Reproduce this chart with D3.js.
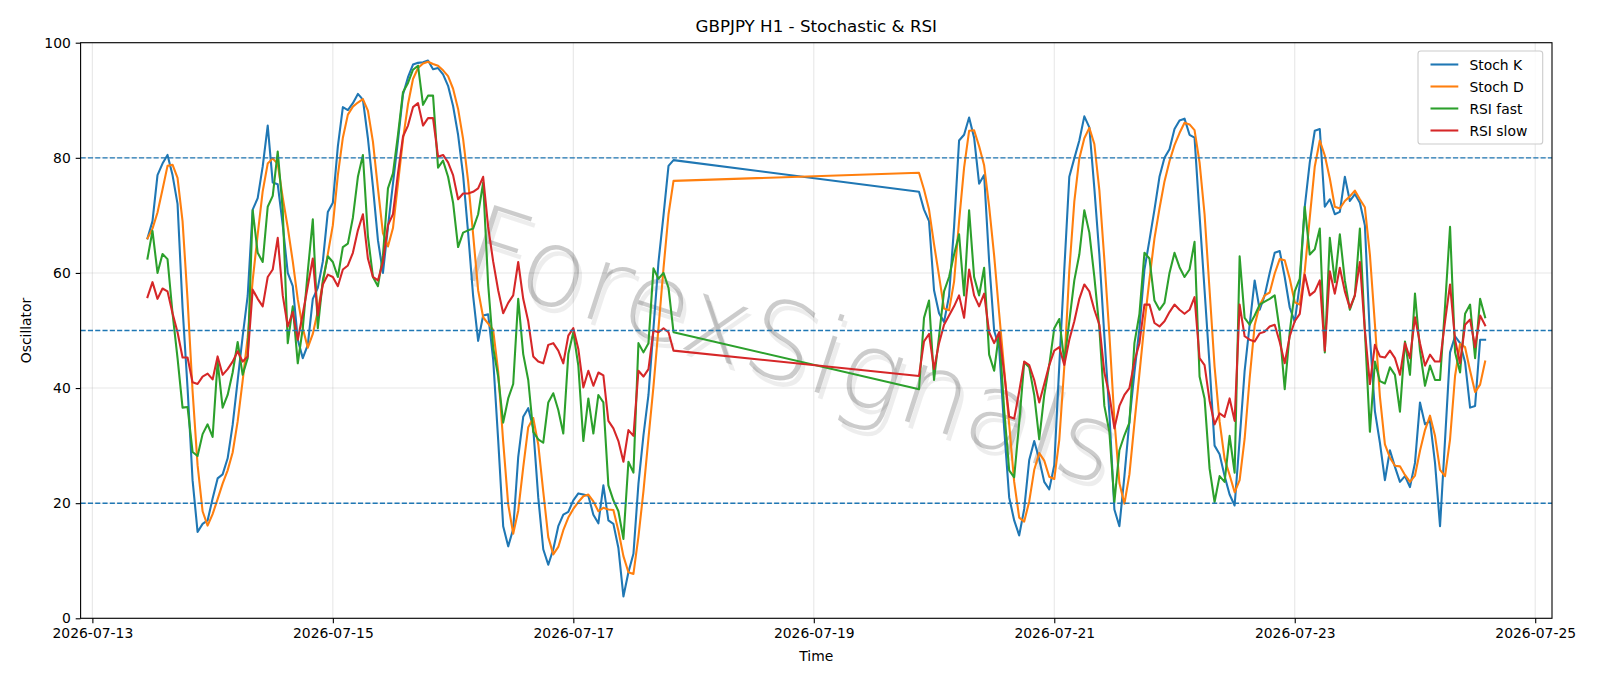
<!DOCTYPE html>
<html>
<head>
<meta charset="utf-8">
<script src="https://cdn.jsdelivr.net/npm/d3@7/dist/d3.min.js"></script>
<style>
  body { margin: 0; background: #fff; }
  svg { display: block; font-family: "DejaVu Sans", sans-serif; }
</style>
</head>
<body>
<script>
// --- data (hourly bars, two trading blocks with the weekend gap between) ---
const seg1Start = '2026-07-13T11:00:00Z';
const seg2Start = '2026-07-19T21:00:00Z';

const stochK1 = [66, 69, 77, 79, 80.5, 77, 72, 54, 40, 24,
  15, 16.4, 17, 20.8, 24.3, 25, 27.8, 33.6, 41.3, 49,
  56, 71, 73, 78.5, 85.6, 75.7, 75.4, 68.3, 60, 57.7,
  48.4, 45.2, 47.5, 55.5, 57.4, 62, 70.6, 72.2, 82, 88.8,
  88.3, 89.5, 91.1, 90.1, 83.4, 75, 65.7, 60, 68, 75.5,
  83, 91, 94, 96.2, 96.5, 96.6, 96.9, 95.4, 95.6, 94.5,
  92.5, 89, 84, 77, 67, 56, 48.2, 52.6, 52.8, 45,
  31, 16, 12.5, 15.5, 28, 35, 36.5, 33, 21, 12,
  9.3, 12, 16, 18, 18.5, 20.5, 21.7, 21.5, 21.3, 18,
  16.5, 23.1, 17, 16.4, 12.2, 3.8, 8, 11.2, 23.4, 31.8,
  38.8, 50.4, 61.9, 70, 78.6, 79.6];
const stochK2 = [74.1, 71, 69, 57, 53, 51.5, 56, 68, 83, 84,
  87, 83.5, 75.5, 77, 62, 50, 47, 33, 21, 17,
  14.4, 19, 27.5, 30.8, 27.6, 23.7, 22.4, 26.6, 43.9, 60.6,
  76.7, 79.9, 83, 87.2, 85.3, 74.7, 63.2, 49, 35.6, 18.9,
  16, 24.7, 34.3, 42.7, 50.4, 60.6, 65.7, 71, 76.7, 80,
  81.5, 85, 86.5, 86.8, 84, 83.5, 70, 57, 44, 30,
  28.5, 24.7, 21.5, 19.6, 31, 43, 51, 58.7, 53.6, 56.1,
  60, 63.5, 63.8, 59.3, 54, 51.5, 58, 71.5, 79.2, 84.7,
  85, 71.5, 72.8, 70.2, 70.6, 76.7, 72.5, 73.7, 72.2, 68.3,
  49, 36, 30.5, 24, 29.2, 26.3, 23.7, 24.7, 22.8, 27,
  37.5, 33.7, 34.3, 27, 16, 31, 46.2, 49, 47.8, 44.5,
  36.6, 36.9, 48.4, 48.4];

const stochD1 = [66, 67.7, 70.5, 74.5, 78.6, 78.8, 76.5, 69, 55.4, 39.5,
  26.6, 18.6, 16.1, 18.1, 20.7, 23.4, 25.7, 28.8, 34.2, 41.3,
  48.8, 58.7, 66.7, 74.2, 79, 79.9, 78.9, 73.1, 67.9, 62,
  55.4, 50.4, 47, 49.4, 53.4, 58.3, 63.3, 68.3, 77, 83.5,
  87.5, 88.9, 89.6, 90.2, 88.2, 82.8, 74.7, 66.9, 64.6, 67.8,
  75.5, 83.2, 89.3, 93.7, 95.6, 96.4, 96.7, 96.3, 96, 95.2,
  94.2, 92, 88.5, 83.3, 76, 66.7, 57, 52.3, 51.2, 50.1,
  42.9, 30.7, 19.8, 14.7, 18.7, 26.2, 33.2, 34.8, 30.2, 22,
  14.1, 11.1, 12.4, 15.3, 17.5, 19, 20.2, 21.2, 21.5, 20.3,
  18.6, 19.2, 18.9, 18.8, 15.2, 10.8, 8, 7.7, 14.2, 22.1,
  31.3, 40.3, 50.4, 60.8, 70.2, 76];
const stochD2 = [77.4, 74.5, 71, 65, 59.5, 53.8, 53.5, 58.5, 69, 78.3,
  84.7, 84.8, 82, 78.7, 71.5, 63, 53, 43.3, 33.7, 23.7,
  17.5, 16.8, 20.3, 25.8, 28.7, 27.4, 24.6, 24.2, 31, 43.7,
  60.4, 72.4, 79.9, 83.4, 85.2, 82.4, 74.4, 62.3, 49.3, 34.5,
  23.5, 19.9, 25, 33.9, 42.5, 51.2, 58.9, 66, 71.2, 75.9,
  79.4, 82.2, 84.3, 86.1, 85.8, 84.8, 79.2, 70.2, 57, 43.7,
  34.2, 27.7, 24.9, 21.9, 24, 31.2, 41.7, 50.9, 54.4, 56.1,
  56.6, 59.9, 62.4, 62.2, 59, 54.9, 54.5, 60.3, 69.6, 78.5,
  83, 80.4, 76.4, 71.5, 71.2, 72.5, 73.3, 74.3, 72.8, 71.4,
  63.2, 51.1, 38.5, 30.2, 27.9, 26.5, 26.4, 24.9, 23.7, 24.8,
  29.1, 32.7, 35.2, 31.7, 25.8, 24.7, 31.1, 42.1, 47.7, 47.1,
  43, 39.3, 40.6, 44.6];

const rsiFast1 = [62.5, 67.3, 60, 63.3, 62.4, 53, 45.2, 36.6, 36.7, 28.9,
  28.2, 32, 33.7, 31.5, 44.6, 36.6, 38.8, 42.7, 48, 42.3,
  45.2, 70.9, 63.5, 61.9, 71.5, 73.4, 81.1, 70.9, 47.8, 54.2,
  44.3, 50.4, 60.3, 69.3, 50.4, 58.7, 62.9, 61.9, 59.3, 64.5,
  65.1, 69.6, 76.7, 80.5, 66.4, 59.3, 57.7, 63, 74.7, 77.3,
  84, 91.4, 93, 95.3, 96, 89.2, 90.8, 90.8, 78.3, 79.5,
  76.7, 72.2, 64.5, 67, 67.4, 67.7, 70.2, 75.7, 58, 47,
  42, 34, 38.2, 40.7, 55.5, 45.9, 41.4, 32.4, 31.1, 30.5,
  37.5, 39.1, 36.2, 32.1, 45.9, 49.7, 43.9, 30.8, 38.2, 32.1,
  38.8, 37.5, 23.1, 20.5, 18.6, 13.8, 27.2, 25.3, 47.8, 46.2,
  47.8, 60.8, 59, 60, 57.4, 49.7];
const rsiFast2 = [39.8, 52.2, 55.2, 41.4, 49, 56.8, 59.3, 63.2, 66.7, 56.1,
  70.9, 59.3, 56.1, 60.9, 45.8, 43, 49.7, 36.2, 25.7, 24.5,
  34, 44.5, 43.6, 38.8, 31.1, 38.8, 44, 50.4, 52, 44.6,
  51.6, 58.7, 63.2, 70.9, 67, 59.3, 50.4, 36.9, 32.4, 20.2,
  29.2, 31.8, 34, 47.8, 52.9, 63.5, 62.5, 55.2, 53.6, 54.8,
  60, 63.5, 61, 59.3, 60.6, 65.4, 42, 38.2, 26, 20.2,
  24.7, 23.7, 31.7, 25.3, 62.9, 52.2, 51, 52.6, 54.5, 55,
  55.5, 56.1, 50, 39.8, 49.7, 56.8, 59, 71.5, 63.2, 64.1,
  67.7, 46.2, 66.1, 58.4, 66.7, 58.7, 53.6, 56.1, 67.7, 50,
  32.4, 44.6, 41.2, 40.8, 43.6, 42.3, 35.9, 48.1, 42.3, 56.4,
  46.5, 40.4, 43.9, 41.4, 41.4, 54.2, 68, 46.2, 42.7, 52.9,
  54.5, 45.2, 55.5, 52.3];

const rsiSlow1 = [55.8, 58.4, 55.5, 57.3, 56.8, 53, 49.7, 45.3, 45.3, 41,
  40.7, 42, 42.5, 41.5, 45.5, 42.3, 43.3, 44.6, 46.4, 44.6,
  45.5, 57.1, 55.5, 54.2, 59.3, 60.6, 66.1, 56.1, 50.7, 53.2,
  48.4, 52.9, 57.7, 62.5, 52.6, 58, 59.7, 59.3, 57.7, 60.6,
  61.3, 63.5, 67.4, 70.2, 62.5, 59.3, 58.7, 61.9, 68.3, 70.2,
  77.3, 83.7, 85.6, 88.8, 89.5, 85.6, 86.9, 86.9, 80.2, 80.5,
  79.2, 77, 72.8, 73.8, 73.8, 74.1, 74.7, 76.7, 68, 62,
  57, 53, 54.8, 56.1, 61.9, 55.5, 51.6, 45.5, 44.6, 44.3,
  47.5, 47.8, 46.5, 44.3, 49.1, 50.4, 46.8, 40.1, 43, 40.4,
  42.7, 42.2, 34.3, 33, 30.8, 27.2, 32.7, 31.7, 43, 42,
  43.3, 50, 49.7, 50.4, 49.7, 46.5];
const rsiSlow2 = [42.1, 48.1, 49.4, 43.3, 47.8, 51, 52.6, 54.2, 56.1, 52.2,
  60.6, 56.1, 54.2, 56.4, 49.7, 47.8, 49.7, 42.6, 35, 34.7,
  39.4, 44.6, 44, 41.4, 37.5, 40.7, 44, 46.5, 47.1, 44,
  48.4, 51.6, 55.5, 58, 56.8, 53.6, 51, 42.7, 38.8, 33,
  36.9, 38.8, 40, 44.6, 47.8, 54.5, 54.5, 51.3, 50.7, 51.6,
  53.2, 54.5, 53.6, 52.9, 53.6, 55.8, 45.2, 44, 37.8, 33.7,
  35.6, 35, 38.2, 34.3, 54.5, 49, 48.4, 48.1, 49.5, 49.8,
  50.7, 51, 48, 44.3, 49, 51.6, 52.9, 59.7, 56.1, 56.8,
  58.7, 46.5, 60.3, 56.4, 60.9, 56.8, 53.9, 56.1, 61.9, 50,
  40.7, 47.5, 45.5, 45.3, 46.5, 45.2, 42.3, 47.8, 45.2, 52.3,
  47.8, 43.9, 45.8, 44.6, 44.6, 51.6, 58, 48.4, 44.3, 51,
  51.9, 47.1, 52.6, 50.9];

const seriesNames = ['Stoch K', 'Stoch D', 'RSI fast', 'RSI slow'];
const seriesColors = ['#1f77b4', '#ff7f0e', '#2ca02c', '#d62728'];
const levels = [80, 50, 20];
const xTicks = ['2026-07-13', '2026-07-15', '2026-07-17', '2026-07-19', '2026-07-21', '2026-07-23', '2026-07-25'];
const yTicks = [0, 20, 40, 60, 80, 100];

// --- layout ---
const W = 1600, H = 686;
const margin = {top: 42.7, right: 48, bottom: 67.7, left: 80.6};
const iw = W - margin.left - margin.right;
const ih = H - margin.top - margin.bottom;
const FS = 13.9;

const HOUR = 3600 * 1000;
const hours = (start, n) => d3.range(n).map(i => new Date(Date.parse(start) + i * HOUR));
const times = hours(seg1Start, stochK1.length).concat(hours(seg2Start, stochK2.length));
const series = [
  stochK1.concat(stochK2),
  stochD1.concat(stochD2),
  rsiFast1.concat(rsiFast2),
  rsiSlow1.concat(rsiSlow2)
];

// matplotlib style 5% x margins
const t0 = times[0], t1 = times[times.length - 1];
const pad = (t1 - t0) * 0.05;
const x = d3.scaleUtc()
  .domain([new Date(+t0 - pad), new Date(+t1 + pad)])
  .range([0, iw]);
const y = d3.scaleLinear().domain([0, 100]).range([ih, 0]);

const svg = d3.select('body').append('svg')
  .attr('width', W)
  .attr('height', H);

svg.append('text')
  .attr('x', margin.left + iw / 2)
  .attr('y', 25.5)
  .attr('text-anchor', 'middle')
  .attr('dominant-baseline', 'central')
  .style('font-size', '16.7px')
  .text('GBPJPY H1 - Stochastic & RSI');

const g = svg.append('g')
  .attr('transform', 'translate(' + margin.left + ',' + margin.top + ')');

// grid
const tickDates = xTicks.map(s => new Date(s + 'T00:00:00Z'));
g.append('g').selectAll('line.vgrid')
  .data(tickDates)
  .enter().append('line')
  .attr('class', 'vgrid')
  .attr('x1', d => x(d)).attr('x2', d => x(d))
  .attr('y1', 0).attr('y2', ih)
  .attr('stroke', '#b0b0b0').attr('stroke-opacity', 0.3).attr('stroke-width', 1.1);
g.append('g').selectAll('line.hgrid')
  .data(yTicks)
  .enter().append('line')
  .attr('class', 'hgrid')
  .attr('x1', 0).attr('x2', iw)
  .attr('y1', d => y(d)).attr('y2', d => y(d))
  .attr('stroke', '#b0b0b0').attr('stroke-opacity', 0.3).attr('stroke-width', 1.1);

// watermark: thin grey text with a faint offset shadow
const wm = g.append('g')
  .attr('transform', 'translate(' + (792 - margin.left) + ',' + (345 - margin.top) + ') rotate(18)');
wm.append('text')
  .attr('x', 5).attr('y', 5)
  .attr('text-anchor', 'middle')
  .attr('dominant-baseline', 'central')
  .style('font-size', '108px')
  .style('font-weight', 200)
  .attr('fill', '#000').attr('fill-opacity', 0.07)
  .text('ForexSignals');
wm.append('text')
  .attr('text-anchor', 'middle')
  .attr('dominant-baseline', 'central')
  .style('font-size', '108px')
  .style('font-weight', 200)
  .attr('fill', '#000').attr('fill-opacity', 0.2)
  .text('ForexSignals');

// lines
const line = d3.line()
  .x((d, i) => x(times[i]))
  .y(d => y(d));
g.append('g').selectAll('path.series')
  .data(series)
  .enter().append('path')
  .attr('class', 'series')
  .attr('d', line)
  .attr('fill', 'none')
  .attr('stroke', (d, i) => seriesColors[i])
  .attr('stroke-width', 2.08)
  .attr('stroke-linejoin', 'round')
  .attr('stroke-linecap', 'square');

// overbought / mid / oversold levels
g.append('g').selectAll('line.level')
  .data(levels)
  .enter().append('line')
  .attr('class', 'level')
  .attr('x1', 0).attr('x2', iw)
  .attr('y1', d => y(d)).attr('y2', d => y(d))
  .attr('stroke', '#1f77b4')
  .attr('stroke-width', 1.39)
  .attr('stroke-dasharray', '5.1,2.2');

// axes
const xAxis = d3.axisBottom(x)
  .tickValues(tickDates)
  .tickFormat(d3.utcFormat('%Y-%m-%d'))
  .tickSize(4.9).tickPadding(4.9);
const yAxis = d3.axisLeft(y)
  .tickValues(yTicks)
  .tickSize(4.9).tickPadding(4.9);

const gx = g.append('g').attr('transform', 'translate(0,' + ih + ')').call(xAxis);
const gy = g.append('g').call(yAxis);
[gx, gy].forEach(a => {
  a.select('.domain').remove();
  a.selectAll('line').attr('stroke', '#000').attr('stroke-width', 1.1);
  a.selectAll('text').attr('fill', '#000').style('font-size', FS + 'px')
    .style('font-family', '"DejaVu Sans", sans-serif');
});

// frame
g.append('rect')
  .attr('width', iw).attr('height', ih)
  .attr('fill', 'none')
  .attr('stroke', '#000').attr('stroke-width', 1.1);

svg.append('text')
  .attr('x', margin.left + iw / 2)
  .attr('y', 656)
  .attr('text-anchor', 'middle')
  .attr('dominant-baseline', 'central')
  .style('font-size', FS + 'px')
  .text('Time');
svg.append('text')
  .attr('transform', 'translate(25.5,' + (margin.top + ih / 2) + ') rotate(-90)')
  .attr('text-anchor', 'middle')
  .attr('dominant-baseline', 'central')
  .style('font-size', FS + 'px')
  .text('Oscillator');

// legend
const lg = svg.append('g');
lg.append('rect')
  .attr('x', 1418).attr('y', 51)
  .attr('width', 124.7).attr('height', 93)
  .attr('rx', 2.8)
  .attr('fill', '#fff').attr('fill-opacity', 0.8)
  .attr('stroke', '#cccccc').attr('stroke-width', 1.1);
const items = lg.selectAll('g.item')
  .data(seriesNames)
  .enter().append('g')
  .attr('class', 'item')
  .attr('transform', (d, i) => 'translate(0,' + (64.5 + i * 22) + ')');
items.append('line')
  .attr('x1', 1430.5).attr('x2', 1458.3)
  .attr('stroke', (d, i) => seriesColors[i])
  .attr('stroke-width', 2.08);
items.append('text')
  .attr('x', 1469.4)
  .attr('dominant-baseline', 'central')
  .style('font-size', FS + 'px')
  .text(d => d);
</script>
</body>
</html>
